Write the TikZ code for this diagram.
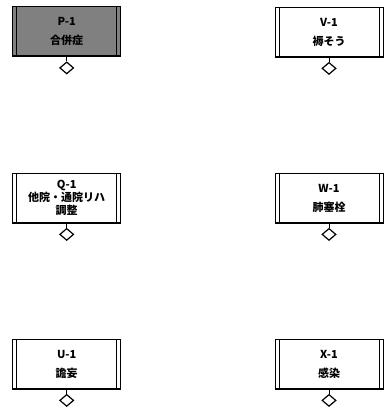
\documentclass[tikz,border=0pt]{standalone}
\usepackage{fontspec}
\setmainfont{Noto Sans CJK JP}
\usetikzlibrary{shapes.geometric}
\begin{document}
\begin{tikzpicture}[x=1pt,y=-1pt,
  evbox/.style={draw, line width=0.8pt, minimum width=108pt, minimum height=50pt,
    inner sep=0pt, align=center, font=\fontsize{11}{15}\selectfont\bfseries,
    path picture={
      \draw[line width=0.9pt] ([xshift=4pt]path picture bounding box.north west) -- ([xshift=4pt]path picture bounding box.south west);
      \draw[line width=0.9pt] ([xshift=-4pt]path picture bounding box.north east) -- ([xshift=-4pt]path picture bounding box.south east);
      \draw[line width=2.4pt] (path picture bounding box.south west) -- (path picture bounding box.south east);
    }},
  gate/.style={diamond, draw, line width=1.2pt, minimum width=14pt, minimum height=12pt, inner sep=0pt},
  link/.style={draw, line width=0.9pt}]
\useasboundingbox (0,0) rectangle (389,411);
\node[evbox, fill=black!50] (P) at (66.7,31.5) {P-1\\[4pt]合併症};
\node[evbox] (V) at (329,32) {V-1\\[4pt]褥そう};
\node[evbox, font=\fontsize{11}{15}\selectfont\bfseries] (Q) at (66.7,198) {Q-1\\[-2pt]他院・通院リハ\\[-2pt]調整};
\node[evbox] (W) at (329,198) {W-1\\[4pt]肺塞栓};
\node[evbox] (U) at (66.7,364) {U-1\\[4pt]譫妄};
\node[evbox] (X) at (329,364) {X-1\\[4pt]感染};
\foreach \n in {P,V,Q,W,U,X}{
  \node[gate] (g\n) at ([yshift=-11pt]\n.south) {};
  \draw[link] (\n.south) -- (g\n.north);
}
\end{tikzpicture}
\end{document}
